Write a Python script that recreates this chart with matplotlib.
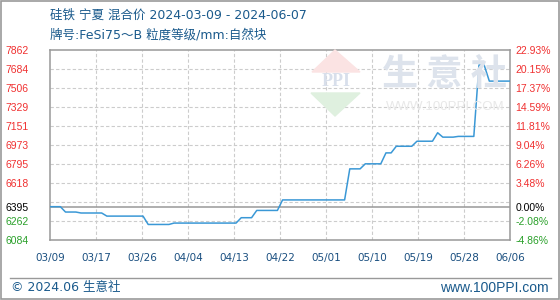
import matplotlib
matplotlib.use('Agg')
import matplotlib.pyplot as plt
from matplotlib.patches import Polygon, Rectangle
from matplotlib.lines import Line2D
import numpy as np

plt.rcParams['font.family'] = ['Liberation Sans', 'Noto Sans CJK SC', 'DejaVu Sans']

title1 = '硅铁 宁夏 混合价 2024-03-09 - 2024-06-07'
title2 = '牌号:FeSi75～B 粒度等级/mm:自然块'

# daily price, 03/09 .. 06/06
prices = [6395, 6395, 6395, 6345, 6345, 6345, 6336, 6336, 6336, 6336,
          6336, 6307, 6307, 6307, 6307, 6307, 6307, 6307, 6307, 6229,
          6229, 6229, 6229, 6229, 6242, 6242, 6242, 6242, 6242, 6242,
          6242, 6242, 6242, 6242, 6242, 6242, 6242, 6292, 6292, 6292,
          6360, 6360, 6360, 6360, 6360, 6458, 6458, 6458, 6458, 6458,
          6458, 6458, 6458, 6458, 6458, 6458, 6458, 6458, 6748, 6748,
          6748, 6795, 6795, 6795, 6795, 6897, 6897, 6959, 6959, 6959,
          6959, 7006, 7006, 7006, 7006, 7085, 7044, 7044, 7044, 7051,
          7051, 7051, 7051, 7717, 7717, 7567, 7567, 7567, 7567, 7567]

date_labels = ['03/09', '03/17', '03/26', '04/04', '04/13', '04/22',
               '05/01', '05/10', '05/19', '05/28', '06/06']

base = 6395
left_ticks = [7862, 7684, 7506, 7329, 7151, 6973, 6795, 6618, 6395, 6262, 6084]
right_labels = ['22.93%', '20.15%', '17.37%', '14.59%', '11.81%', '9.04%',
                '6.26%', '3.48%', '0.00%', '-2.08%', '-4.86%']
grid_levels = [7684, 7506, 7329, 7151, 6973, 6795, 6618, 6440, 6262]

W, H = 560, 300
fig = plt.figure(figsize=(W / 100, H / 100), dpi=100)


def fx(x):
    return x / W


def fy(y):
    return 1 - y / H


ax = fig.add_axes([fx(50), fy(240), fx(460), 190.5 / H])
x = np.arange(len(prices))
ax.set_xlim(0, len(prices) - 1)
ax.set_ylim(6084, 7862)

grid_kw = dict(color='#cccccc', lw=0.8, ls=(0, (3, 2)), zorder=1)
for g in grid_levels:
    ax.axhline(g, **grid_kw)
xt = np.linspace(0, len(prices) - 1, len(date_labels))
for v in xt[1:-1]:
    ax.axvline(v, **grid_kw)
ax.axhline(base, color='#999999', lw=1.1, zorder=2)

ax.plot(x, prices, color='#3a98d6', lw=1.1, zorder=4)

for s in ax.spines.values():
    s.set_color('#999999')
    s.set_linewidth(1.1)

ax.set_xticks(xt)
ax.set_xticklabels(date_labels, fontsize=7.5, color='#1a4f80', family='DejaVu Sans')
ax.set_yticks(left_ticks)
ax.set_yticklabels([str(v) for v in left_ticks], fontsize=7.5)
ax.tick_params(axis='both', length=0)
ax.tick_params(axis='x', pad=9)
ax.tick_params(axis='y', pad=15.5)


def tick_color(v):
    if v > base:
        return '#f03030'
    if v < base:
        return '#2aa02a'
    return '#000000'


for lab, v in zip(ax.get_yticklabels(), left_ticks):
    lab.set_color(tick_color(v))

ax2 = ax.twinx()
ax2.set_ylim(ax.get_ylim())
ax2.set_yticks(left_ticks)
ax2.set_yticklabels(right_labels, fontsize=7.5)
ax2.tick_params(axis='y', length=0, pad=4)
for s in ax2.spines.values():
    s.set_visible(False)
for lab, v in zip(ax2.get_yticklabels(), left_ticks):
    lab.set_color(tick_color(v))

# watermark
tri1 = Polygon([(fx(312), fy(72)), (fx(360), fy(72)), (fx(335), fy(50))],
               closed=True, transform=fig.transFigure, color='#fbe3e3', zorder=3)
tri2 = Polygon([(fx(311), fy(93)), (fx(360), fy(93)), (fx(335), fy(116))],
               closed=True, transform=fig.transFigure, color='#dff0df', zorder=3)
fig.patches.extend([tri1, tri2])
fig.text(fx(336), fy(82), 'PPI', fontsize=13, color='#d8dfeb', ha='center',
         va='center', family='Liberation Serif', weight='bold')
fig.text(fx(444), fy(74), '生 意 社', fontsize=26, color='#dde3ec', ha='center',
         va='center', family='Noto Sans CJK SC', weight='bold')
fig.text(fx(445), fy(107), 'WWW.100PPI.COM', fontsize=9.5, color='#e8e8e8',
         ha='center', va='center')

# header
head_font = ['DejaVu Sans', 'Noto Sans CJK SC']
fig.text(fx(50), fy(15), title1, fontsize=9, color='#1a5a8c', va='center',
         family=head_font)
fig.text(fx(50), fy(35), title2, fontsize=9, color='#1a5a8c', va='center',
         family=head_font)

# footer
fig.add_artist(Line2D([fx(10), fx(551)], [fy(277.5), fy(277.5)],
                      transform=fig.transFigure, color='#999999', lw=1))
fig.text(fx(11), fy(288), '© 2024.06 生意社', fontsize=9, color='#1a5a8c',
         va='center', family=head_font)
fig.text(fx(549), fy(288), 'www.100PPI.com', fontsize=10, color='#1a5a8c',
         va='center', ha='right')

fig.add_artist(Rectangle((0.001, 0.002), 0.997, 0.996, transform=fig.transFigure,
                         fill=False, edgecolor='#999999', lw=1.2))

fig.savefig('out.png', dpi=100)
